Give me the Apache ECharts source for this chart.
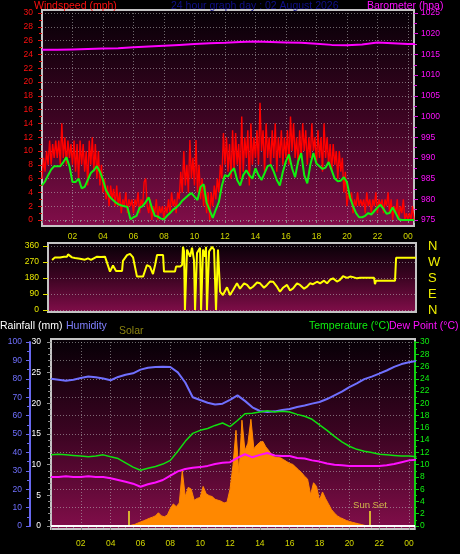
<!DOCTYPE html>
<html><head><meta charset="utf-8">
<script src="https://cdn.jsdelivr.net/npm/echarts@6/dist/echarts.min.js"></script>
<style>html,body{margin:0;padding:0;background:#000;}#c{width:460px;height:554px;}</style>
</head><body><div id="c"></div>
<script>
// ---------- DATA ----------
const titleText = '24 hour graph day : 02 August 2026';
const hourTicks = ['02','04','06','08','10','12','14','16','18','20','22','00'];

// Wind speed (mph), one reading every 0.1 h from 00:00
const windStep = 0.1;
const windSpeed = [
 6,9,7,10,8,11.5,8,11,9,11.5,
 9,11.5,8,14,9,12,8,11.5,9,11,
 8,11.5,7,11,6,11.5,8,11,7,10,
 5,11.5,8,12,7,11,6,10,5,8,
 4,6,3,5,2,5,3,4.5,2,5,
 2,4,1,3,2,4,1,3,2,3,
 1,3,2,4,1,3,2,5.5,6,2,
 1,3,0,2,1,3,0,2,1,2,
 0,2,1,3,1,4,2,3,1,4,
 3,7,4,10,5,8,4,11.6,6,9,
 5,11.6,4,8,3,6,2,5,1,4,
 0,4,2,5,3,6,4,8,6,12.6,
 8,12,7,11,6,13,7,12.6,8,11,
 6,15,7,12,9,13,5,14,8,12,
 9,13,8,17,10,13,7,14,9,12,
 8,13,9,14,7,12,9,13,8,12,
 9,13,8,15,10,14,9,12,8,13,
 9,14,10,13,8,12,9,14,10,12,
 8,13,9,12,7,14,9,12,8,11,
 7,11,8,10,6,10,7,9,4,7,
 2,4,3,4,1,3,2,4,2,3,
 2,3,1,4,2,3,1,3,2,4,
 1,3,2,3,1,3,2,4,1,3,
 0,2,1,3,0,2,1,3,0,1,
 0,1,0,2,0
];
// Average wind speed (mph), every 0.2 h
const avgStep = 0.2;
const windAvg = [
 5.0,5.6,6.5,7.3,7.8,7.8,7.8,8.4,9.1,7.8,
 5.5,5.5,6.0,4.6,4.8,5.8,6.8,7.2,7.8,7.0,
 5.8,4.3,3.5,3.0,2.6,2.3,2.1,2.0,1.9,0.1,
 0.4,0.6,1.8,2.0,2.6,3.3,1.8,0.6,0.5,0.2,
 0.1,0.6,1.0,1.5,1.8,2.2,2.8,3.2,3.6,3.9,
 3.4,2.9,4.8,5.2,2.5,1.4,0.3,1.5,2.6,5.0,
 6.5,6.3,7.0,7.5,5.8,5.0,6.5,7.2,6.5,6.0,
 7.5,6.5,5.8,6.8,7.8,8.0,7.0,5.8,5.0,7.0,
 8.5,9.5,7.5,6.2,8.5,9.7,6.5,5.3,8.0,9.7,
 8.2,7.8,7.4,7.6,8.4,7.2,6.0,5.6,5.7,6.2,
 5.5,3.3,2.0,1.0,0.4,0.4,0.6,1.0,0.8,1.3,
 1.8,2.2,1.6,0.9,1.0,1.8,1.0,0.1,0,0,
 0,0,0
];
// Barometer (hPa), hourly
const baroStep = 1;
const barometer = [1016.1,1016.1,1016.2,1016.3,1016.4,1016.5,1016.7,1016.9,1017.1,1017.3,
 1017.5,1017.7,1017.8,1018.0,1018.1,1018.0,1017.9,1017.8,1017.6,1017.3,
 1017.2,1017.4,1017.9,1017.7,1017.5,1017.5];

// Wind direction (degrees) with reading times (hours)
const dirHours = [0.27,0.46,0.80,1.06,1.26,1.33,1.59,1.79,1.92,2.12,2.25,2.45,2.65,2.85,2.98,3.25,3.51,3.78,3.91,
 4.11,4.31,4.51,4.91,4.97,5.24,5.44,5.64,5.77,5.90,6.30,6.56,6.76,6.96,7.10,7.23,7.63,7.69,8.42,8.49,8.75,8.89,
 8.95,9.02,9.08,9.15,9.22,9.42,9.55,9.68,9.75,9.81,9.88,10.08,10.15,10.21,10.28,10.41,10.48,10.54,10.61,10.68,10.88,11.01,11.14,11.21,11.27,11.34,
 11.41,11.60,11.87,12.07,12.27,12.53,12.73,13.00,13.20,13.40,13.59,13.86,14.06,14.32,14.52,14.72,14.92,15.19,15.38,15.58,15.85,
 16.05,16.25,16.51,16.71,16.98,17.18,17.37,17.57,17.84,18.04,18.30,18.50,18.70,18.90,19.16,19.36,19.56,19.83,20.03,20.23,20.49,20.69,
 21.02,21.35,21.62,21.68,21.75,23.01,23.08,24.40];
const dirValues = [281,296,295,300,300,313,296,292,300,288,290,283,290,282,290,300,298,300,290,
 216,250,220,220,276,309,316,296,290,188,188,253,244,202,253,309,309,216,216,244,244,253,
 356,330,0,0,340,300,350,280,0,0,320,350,0,0,340,300,355,0,0,330,355,340,0,0,340,350,
 103,84,128,84,112,150,120,150,141,120,131,155,150,125,141,160,159,130,103,125,141,
 110,122,150,141,120,131,150,145,159,150,165,150,170,178,160,169,190,181,188,185,178,181,
 181,181,181,145,165,165,294,294];
const dirLetters = {0:'N',90:'E',180:'S',270:'W',360:'N'};

// Humidity (%), temperature and dew point (°C), every 0.5 h
const climateStep = 0.5;
const humidity = [80,79.5,79,79.5,80.4,81.2,80.8,80.2,79.2,81,
 82.2,83,85,86,86.4,86.5,86.4,83.5,78,70,
 68.5,67,66,66.5,68.5,71,68,64.5,62.5,62,
 62.3,63,63.6,64.7,65.5,66.5,67.4,69,71,73,
 75.5,77.5,79.8,81.2,82.8,84.5,86.5,88,89,89.7];
const temperature = [11.6,11.7,11.6,11.5,11.4,11.3,11.4,11.6,11.3,11.0,
 10.3,9.6,9.1,9.4,9.7,10.1,10.7,12.2,13.8,15.1,
 15.6,15.9,16.4,16.8,16.2,17.2,18.3,18.4,18.6,18.8,
 18.6,18.7,18.6,18.2,17.9,17.4,16.5,15.6,14.6,13.7,
 13.0,12.5,12.2,12.0,11.7,11.6,11.5,11.4,11.4,11.3];
const dewPoint = [8.0,8.0,8.1,8.0,8.0,8.1,8.0,8.0,7.8,7.5,
 7.2,6.9,6.4,6.8,7.1,7.5,8.2,8.9,9.3,9.5,
 9.6,9.8,10.1,10.3,10.4,11.1,11.7,11.2,11.6,11.9,
 11.5,11.4,11.4,11.1,11.0,10.7,10.5,10.2,10.0,9.9,
 9.8,9.8,9.8,9.8,9.8,9.9,10.1,10.4,10.7,10.8];
// Rainfall (mm)
const rainHours = [0,24.4];
const rainfall = [0,0];
// Solar radiation (W/m2), every 0.2 h
const solarStep = 0.2;
const solar = [
 0,0,0,0,0,0,0,0,0,0,0,0,0,0,0,0,0,0,0,0,0,0,0,0,0,0,
 0,5,8,15,22,28,35,42,48,55,
 72,55,50,60,95,120,105,125,300,160,
 210,200,140,150,155,215,175,165,160,145,
 140,135,125,130,200,330,520,280,575,410,
 450,580,420,440,455,460,430,410,385,375,
 372,370,360,350,340,335,320,305,290,270,
 255,170,235,215,140,185,150,120,90,70,
 55,45,38,30,25,20,16,12,8,4,
 0,
 0,0,0,0,0,0,0,0,0,0,0,0,0,0,0,0
];
const sunriseHour = 5.23;
const sunsetHour = 21.38;
const sunMarkHeight = 82;

// ---------- CHART ----------
const XMAX = 24.4;
const pair = (arr, step) => arr.map((v, i) => [+(i * step).toFixed(3), v]);
const FONT = 'Liberation Sans';
const TICKF = 'Liberation Sans';
const grid = 'rgba(190,190,190,0.55)';
const xLabelColor = '#d4d800';
const plain = v => String(v);

function xFmt(v) {
  if (v <= 0 || v > 24.01 || Math.abs(v % 2) > 1e-6) return '';
  return hourTicks[Math.round(v / 2) - 1];
}
function bg(x, y, w, h) {
  return {
    type: 'rect', z: -100, silent: true,
    shape: { x, y, width: w, height: h },
    style: {
      fill: new echarts.graphic.LinearGradient(0, 0, 0, 1, [
        { offset: 0, color: '#060006' },
        { offset: 0.5, color: '#3c0422' },
        { offset: 1, color: '#820e4a' }
      ]),
      stroke: '#c4c4c4', lineWidth: 2
    }
  };
}
function txt(x, y, text, color, size) {
  return { type: 'text', z: 10, silent: true, style: { x, y, text, fill: color, font: (size || 10.5) + 'px ' + FONT, textVerticalAlign: 'middle' } };
}

const chart = echarts.init(document.getElementById('c'), null, { renderer: 'canvas' });
const dotted = { show: true, lineStyle: { color: grid, type: [1, 2], width: 1 } };

const option = {
  backgroundColor: '#000',
  animation: false,
  graphic: [
    bg(42, 10, 372, 216),
    bg(48, 243, 368, 69),
    bg(51, 339, 364, 190),
    txt(34, 6, 'Windspeed (mph)', '#ff1010'),
    txt(171, 6, titleText, '#10108c'),
    txt(367, 6, 'Barometer (hpa)', '#ff10ff'),
    txt(0, 326, 'Rainfall (mm)', '#ffffff'),
    txt(66, 326, 'Humidity', '#8080ff'),
    txt(119, 331, 'Solar', '#8c8410'),
    txt(309, 326, 'Temperature (°C)', '#10f010'),
    txt(389, 326, 'Dew Point (°C)', '#ff10ff')
  ],
  grid: [
    { left: 42, top: 13, width: 372, height: 207 },
    { left: 48, top: 246, width: 368, height: 64 },
    { left: 51, top: 342, width: 364, height: 184 }
  ],
  xAxis: [
    { gridIndex: 0, type: 'value', min: 0, max: XMAX, interval: 2, offset: 6,
      axisLine: { show: false },
      axisTick: { show: true, length: 3, lineStyle: { color: '#8a8a8a' } },
      minorTick: { show: true, splitNumber: 4, length: 2, lineStyle: { color: '#8a8a8a' } },
      axisLabel: { formatter: xFmt, color: xLabelColor, fontSize: 8.5, fontFamily: TICKF, margin: 6 },
      splitLine: dotted },
    { gridIndex: 1, type: 'value', min: 0, max: XMAX, interval: 2,
      axisLine: { show: false }, axisTick: { show: false }, axisLabel: { show: false }, splitLine: { show: false } },
    { gridIndex: 2, type: 'value', min: 0, max: XMAX, interval: 2, offset: 3,
      axisLine: { show: false },
      axisTick: { show: true, length: 4, lineStyle: { color: '#8a8a8a' } },
      minorTick: { show: true, splitNumber: 4, length: 2, lineStyle: { color: '#8a8a8a' } },
      axisLabel: { formatter: xFmt, color: xLabelColor, fontSize: 8.5, fontFamily: TICKF, margin: 10 },
      splitLine: dotted }
  ],
  yAxis: [
    { gridIndex: 0, type: 'value', min: 0, max: 30, interval: 2, position: 'left',
      axisLine: { show: false },
      axisTick: { show: true, length: 4, lineStyle: { color: '#e01010' } },
      minorTick: { show: true, splitNumber: 2, length: 3, lineStyle: { color: '#e01010' } },
      axisLabel: { color: '#ff1010', fontSize: 8.5, fontFamily: TICKF, margin: 9, formatter: plain },
      splitLine: dotted },
    { gridIndex: 0, type: 'value', min: 975, max: 1025, interval: 5, position: 'right',
      axisLine: { show: false },
      axisTick: { show: true, length: 4, lineStyle: { color: '#e010e0' } },
      minorTick: { show: true, splitNumber: 2, length: 3, lineStyle: { color: '#e010e0' } },
      axisLabel: { color: '#ff10ff', fontSize: 8.5, fontFamily: TICKF, margin: 7, formatter: plain },
      splitLine: { show: false } },
    { gridIndex: 1, type: 'value', min: 0, max: 360, interval: 90, position: 'left',
      axisLine: { show: false },
      axisTick: { show: true, length: 5, lineStyle: { color: '#e0e000' } },
      axisLabel: { color: '#e8e800', fontSize: 8.5, fontFamily: TICKF, margin: 9, formatter: plain },
      splitLine: dotted },
    { gridIndex: 1, type: 'value', min: 0, max: 360, interval: 90, position: 'right',
      axisLine: { show: false }, axisTick: { show: false },
      axisLabel: { color: '#f0f000', fontSize: 13, fontFamily: FONT, margin: 12, formatter: v => dirLetters[v] || '' },
      splitLine: { show: false } },
    { gridIndex: 2, type: 'value', min: 0, max: 30, interval: 5, position: 'left',
      axisLine: { show: false },
      axisTick: { show: true, length: 4, lineStyle: { color: '#909090' } },
      minorTick: { show: true, splitNumber: 5, length: 3, lineStyle: { color: '#909090' } },
      axisLabel: { color: '#ffffff', fontSize: 8.5, fontFamily: TICKF, margin: 10, formatter: plain },
      splitLine: { show: false } },
    { gridIndex: 2, type: 'value', min: 0, max: 100, interval: 10, position: 'left', offset: 21,
      axisLine: { show: true, lineStyle: { color: '#6868f0', width: 2 } },
      axisTick: { show: true, length: 4, lineStyle: { color: '#6868f0' } },
      minorTick: { show: true, splitNumber: 2, length: 3, lineStyle: { color: '#6868f0' } },
      axisLabel: { color: '#7070ff', fontSize: 8.5, fontFamily: TICKF, margin: 8, formatter: plain },
      splitLine: dotted },
    { gridIndex: 2, type: 'value', min: 0, max: 30, interval: 2, position: 'right',
      axisLine: { show: true, lineStyle: { color: '#10d010', width: 2 } },
      axisTick: { show: true, length: 4, lineStyle: { color: '#10d010' } },
      minorTick: { show: true, splitNumber: 2, length: 2, lineStyle: { color: '#10d010' } },
      axisLabel: { color: '#10f010', fontSize: 8.5, fontFamily: TICKF, margin: 5, formatter: plain },
      splitLine: { show: false } },
    { gridIndex: 2, type: 'value', min: 0, max: 1000, show: false }
  ],
  series: [
    { name: 'Windspeed', type: 'line', xAxisIndex: 0, yAxisIndex: 0, data: pair(windSpeed, windStep),
      showSymbol: false, lineStyle: { color: '#ff0000', width: 1.4 }, z: 3 },
    { name: 'Average', type: 'line', xAxisIndex: 0, yAxisIndex: 0, data: pair(windAvg, avgStep),
      showSymbol: false, lineStyle: { color: '#10f010', width: 2 }, z: 4 },
    { name: 'Barometer', type: 'line', xAxisIndex: 0, yAxisIndex: 1, data: pair(barometer, baroStep),
      showSymbol: false, smooth: false, lineStyle: { color: '#ff00ff', width: 2 }, z: 4 },
    { name: 'Direction', type: 'line', xAxisIndex: 1, yAxisIndex: 2, data: dirHours.map((h, i) => [h, dirValues[i]]),
      showSymbol: false, lineStyle: { color: '#ffff00', width: 2 }, z: 4 },
    { name: 'Solar', type: 'line', xAxisIndex: 2, yAxisIndex: 7, data: pair(solar, solarStep),
      showSymbol: false, lineStyle: { color: '#ff8800', width: 1 }, areaStyle: { color: '#ff8800', opacity: 1 }, z: 2,
      markLine: { symbol: 'none', silent: true, animation: false,
        lineStyle: { color: '#d8b030', width: 2, type: 'solid' },
        label: { show: true, position: 'end', distance: 1, color: '#d0b848', fontSize: 9.5, fontFamily: FONT,
          formatter: p => p.dataIndex === 0 ? 'Sun Set' : '' },
        data: [
          [{ coord: [sunsetHour, 0] }, { coord: [sunsetHour, sunMarkHeight] }],
          [{ coord: [sunriseHour, 0] }, { coord: [sunriseHour, sunMarkHeight] }]
        ] } },
    { name: 'Rainfall', type: 'line', xAxisIndex: 2, yAxisIndex: 4, data: rainHours.map((h, i) => [h, rainfall[i]]),
      showSymbol: false, lineStyle: { color: '#ffffff', width: 2 }, z: 5 },
    { name: 'Humidity', type: 'line', xAxisIndex: 2, yAxisIndex: 5, data: pair(humidity, climateStep),
      showSymbol: false, lineStyle: { color: '#7070ff', width: 2 }, z: 4 },
    { name: 'Temperature', type: 'line', xAxisIndex: 2, yAxisIndex: 6, data: pair(temperature, climateStep),
      showSymbol: false, lineStyle: { color: '#10e010', width: 1.5 }, z: 4 },
    { name: 'Dew Point', type: 'line', xAxisIndex: 2, yAxisIndex: 6, data: pair(dewPoint, climateStep),
      showSymbol: false, lineStyle: { color: '#ff10ff', width: 2 }, z: 4 }
  ]
};
chart.setOption(option);
</script></body></html>
